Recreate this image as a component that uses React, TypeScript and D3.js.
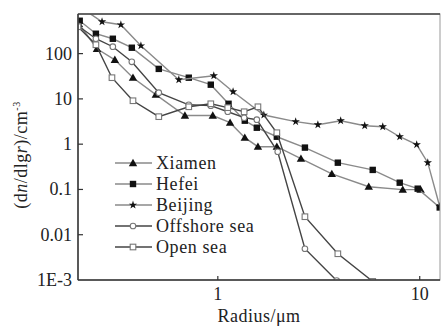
import React from "react";
import * as d3 from "d3";

const xiamenR = [0.205, 0.252, 0.309, 0.38, 0.493, 0.687, 0.944, 1.15, 1.36, 1.58, 1.96, 2.58, 3.67, 5.59, 8.24, 10.1];
const xiamenV = [457, 128, 73, 29.4, 12.4, 4.3, 4.3, 2.98, 1.39, 0.88, 0.88, 0.48, 0.22, 0.115, 0.099, 0.099];

const hefeiR = [0.207, 0.249, 0.302, 0.375, 0.51, 0.718, 0.923, 1.13, 1.36, 1.56, 1.96, 2.7, 3.93, 5.85, 7.96, 9.77, 12.56];
const hefeiV = [532, 275, 213, 135, 46, 29.4, 20.6, 7.8, 3.3, 2.31, 1.46, 0.84, 0.39, 0.27, 0.141, 0.104, 0.04];

const beijingR = [0.203, 0.267, 0.331, 0.416, 0.641, 0.955, 1.19, 1.69, 2.43, 3.13, 4.06, 5.34, 6.56, 7.96, 9.66, 10.96, 12.56];
const beijingV = [1150, 506, 434, 149, 26.5, 32.5, 14.4, 4.4, 3.14, 2.69, 3.3, 2.56, 2.43, 1.46, 0.975, 0.39, 0.042];

const offshoreR = [0.203, 0.249, 0.302, 0.375, 0.51, 0.718, 0.923, 1.12, 1.35, 1.56, 1.98, 2.7, 3.88];
const offshoreV = [413, 213, 142, 66, 13.7, 7.4, 7.1, 5.2, 3.85, 3.47, 0.68, 0.0049, 0.00097];

const openR = [0.203, 0.249, 0.299, 0.38, 0.51, 0.718, 0.923, 1.12, 1.35, 1.58, 1.96, 2.7, 3.93, 5.85];
const openV = [393, 157, 29.4, 9.1, 4.05, 6.7, 7.8, 6.4, 5.2, 6.7, 1.79, 0.025, 0.0038, 0.00093];

const seriesNames = ["Xiamen", "Hefei", "Beijing", "Offshore sea", "Open sea"];
const yTickValues = [0.001, 0.01, 0.1, 1, 10, 100];
const yTickLabels = ["1E-3", "0.01", "0.1", "1", "10", "100"];
const xTickValues = [1, 10];
const xTickLabels = ["1", "10"];

const W = 441, H = 327;
const M = { left: 78, right: 440, top: 14, bottom: 280 };
const FONT = "'Liberation Serif', 'Times New Roman', serif";

type Kind = "tri" | "sq" | "star" | "ocircle" | "osq";

function Marker({ kind, x, y }: { kind: Kind; x: number; y: number }) {
  if (kind === "tri") {
    const s = 4.2;
    return <path d={`M${x},${y - s} L${x + s},${y + s * 0.75} L${x - s},${y + s * 0.75} Z`} fill="#111" />;
  }
  if (kind === "sq") return <rect x={x - 3.2} y={y - 3.2} width={6.4} height={6.4} fill="#111" />;
  if (kind === "star") {
    const p = d3.symbol(d3.symbolStar, 22)();
    return <path d={p || ""} transform={`translate(${x},${y})`} fill="#111" />;
  }
  if (kind === "ocircle") return <circle cx={x} cy={y} r={2.8} fill="#fff" stroke="#777" strokeWidth={1.1} />;
  return <rect x={x - 2.8} y={y - 2.8} width={5.6} height={5.6} fill="#fff" stroke="#777" strokeWidth={1.1} />;
}

export default function App() {
  const x = d3.scaleLog().domain([0.203, 12.6]).range([M.left, M.right]);
  const y = d3.scaleLog().domain([0.001, 750]).range([M.bottom, M.top]);

  const series = [
    { name: seriesNames[0], r: xiamenR, v: xiamenV, kind: "tri" as Kind, color: "#8a8a8a" },
    { name: seriesNames[1], r: hefeiR, v: hefeiV, kind: "sq" as Kind, color: "#8a8a8a" },
    { name: seriesNames[2], r: beijingR, v: beijingV, kind: "star" as Kind, color: "#8a8a8a" },
    { name: seriesNames[3], r: offshoreR, v: offshoreV, kind: "ocircle" as Kind, color: "#444" },
    { name: seriesNames[4], r: openR, v: openV, kind: "osq" as Kind, color: "#444" },
  ];

  const line = d3
    .line<[number, number]>()
    .x((d) => x(d[0]))
    .y((d) => y(d[1]));

  const legendX = 115;
  const legendY0 = 163;
  const legendDy = 21;

  return (
    <svg width={W} height={H} style={{ position: "absolute", left: 0, top: 0, background: "#fff" }}>
      <defs>
        <clipPath id="plotclip">
          <rect x={M.left} y={M.top} width={M.right - M.left} height={M.bottom - M.top} />
        </clipPath>
      </defs>
      <rect x={0} y={0} width={W} height={H} fill="#fff" />
      <g clipPath="url(#plotclip)">
        {series.map((s) => {
          const pts = s.r.map((r, i) => [r, s.v[i]] as [number, number]);
          return (
            <g key={s.name}>
              <path d={line(pts) || ""} fill="none" stroke={s.color} strokeWidth={1.4} />
              {pts.map((p, i) => (
                <Marker key={i} kind={s.kind} x={x(p[0])} y={y(p[1])} />
              ))}
            </g>
          );
        })}
      </g>
      {/* frame */}
      <rect x={M.left} y={M.top} width={M.right - M.left} height={M.bottom - M.top} fill="none" stroke="#999" strokeWidth={1} />
      <line x1={M.left} x2={M.right} y1={M.top} y2={M.top} stroke="#444" strokeWidth={1.5} />
      <line x1={M.left} x2={M.left} y1={M.top} y2={M.bottom} stroke="#333" strokeWidth={1.5} />
      <line x1={M.left} x2={M.right} y1={M.bottom} y2={M.bottom} stroke="#333" strokeWidth={1.5} />
      {/* y ticks */}
      {yTickValues.map((v, i) => (
        <g key={"y" + i}>
          {v > 0.001 && <line x1={M.left} x2={M.left + 5} y1={y(v)} y2={y(v)} stroke="#333" strokeWidth={1.2} />}
          <text x={72} y={y(v) + 6} textAnchor="end" fontFamily={FONT} fontSize={18} fill="#222">
            {yTickLabels[i]}
          </text>
        </g>
      ))}
      {/* x ticks */}
      {xTickValues.map((v, i) => (
        <g key={"x" + i}>
          <line x1={x(v)} x2={x(v)} y1={M.bottom} y2={M.bottom - 4} stroke="#333" strokeWidth={1.2} />
          <text x={x(v)} y={300} textAnchor="middle" fontFamily={FONT} fontSize={18} fill="#222">
            {xTickLabels[i]}
          </text>
        </g>
      ))}
      <text x={(M.left + M.right) / 2} y={322} textAnchor="middle" fontFamily={FONT} fontSize={18} letterSpacing={0.5} fill="#222">
        Radius/μm
      </text>
      <text
        transform={`translate(27,${(M.top + M.bottom) / 2 + 8}) rotate(-90)`}
        textAnchor="middle"
        fontFamily={FONT}
        fontSize={18}
        letterSpacing={0.5}
        fill="#222"
      >
        (d<tspan fontStyle="italic">n</tspan>/dlg<tspan fontStyle="italic">r</tspan>)/cm
        <tspan fontSize={10} dy={-7}>-3</tspan>
      </text>
      {/* legend */}
      {series.map((s, i) => {
        const ly = legendY0 + i * legendDy;
        return (
          <g key={"lg" + i}>
            <line x1={legendX} x2={legendX + 37} y1={ly} y2={ly} stroke={s.color} strokeWidth={1.4} />
            <Marker kind={s.kind} x={legendX + 18} y={ly} />
            <text x={legendX + 41} y={ly + 6} fontFamily={FONT} fontSize={18} letterSpacing={0.6} fill="#222">
              {s.name}
            </text>
          </g>
        );
      })}
    </svg>
  );
}
